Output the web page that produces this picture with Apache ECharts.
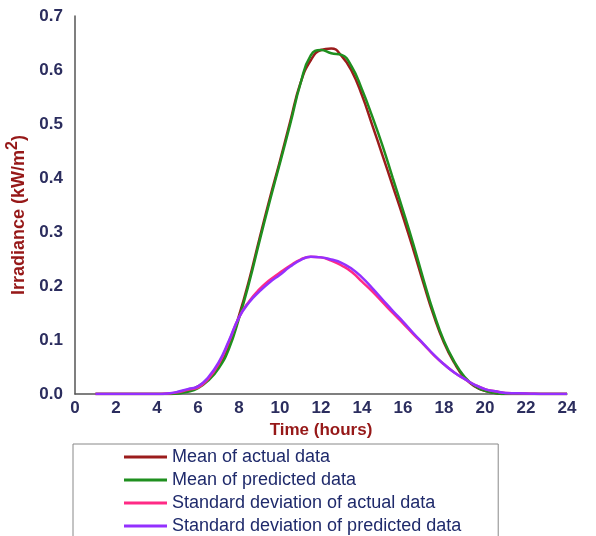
<!DOCTYPE html>
<html>
<head>
<meta charset="utf-8">
<script src="https://cdn.jsdelivr.net/npm/echarts@6/dist/echarts.min.js"></script>
<style>
  html, body { margin: 0; padding: 0; background: #fff; }
  #chart { width: 596px; height: 536px; }
</style>
</head>
<body>
<div id="chart"></div>
<script>
var hours = [1, 2, 3, 4, 4.5, 5, 5.5, 6, 6.5, 7, 7.5, 8, 8.5, 9, 9.5, 10, 10.5, 11, 11.5, 12,
    12.5, 13, 13.5, 14, 14.5, 15, 15.5, 16, 16.5, 17, 17.5, 18, 18.5, 19, 19.5, 20, 20.5, 21, 22, 23, 24];

var meanActual = [0, 0, 0, 0, 0, 0.002, 0.006, 0.014, 0.028, 0.05, 0.087, 0.145, 0.212, 0.288, 0.362, 0.432, 0.505, 0.576, 0.618, 0.637,
    0.64, 0.626, 0.598, 0.553, 0.498, 0.442, 0.385, 0.328, 0.268, 0.205, 0.145, 0.095, 0.058, 0.03, 0.014, 0.006, 0.002, 0, 0, 0, 0];

var meanPredicted = [0, 0, 0, 0, 0, 0.001, 0.004, 0.011, 0.025, 0.047, 0.083, 0.14, 0.207, 0.283, 0.357, 0.428, 0.5, 0.575, 0.627, 0.637,
    0.631, 0.628, 0.606, 0.564, 0.514, 0.46, 0.4, 0.34, 0.278, 0.212, 0.15, 0.098, 0.06, 0.032, 0.015, 0.006, 0.002, 0, 0, 0, 0];

var stdActual = [0, 0, 0, 0, 0.001, 0.003, 0.008, 0.012, 0.028, 0.055, 0.096, 0.142, 0.172, 0.194, 0.211, 0.225, 0.238, 0.249, 0.254, 0.253,
    0.247, 0.238, 0.226, 0.208, 0.19, 0.17, 0.15, 0.131, 0.111, 0.092, 0.072, 0.055, 0.04, 0.028, 0.017, 0.009, 0.005, 0.002, 0.001, 0, 0];

var stdPredicted = [0, 0, 0, 0, 0.001, 0.004, 0.009, 0.014, 0.031, 0.058, 0.098, 0.142, 0.17, 0.19, 0.207, 0.221, 0.236, 0.248, 0.254, 0.253,
    0.249, 0.243, 0.232, 0.216, 0.196, 0.175, 0.154, 0.134, 0.113, 0.093, 0.073, 0.055, 0.04, 0.028, 0.017, 0.009, 0.005, 0.002, 0.001, 0, 0];

var seriesNames = ['Mean of actual data', 'Mean of predicted data', 'Standard deviation of actual data', 'Standard deviation of predicted data'];
var seriesColors = ['#9b1c1c', '#1f8f1f', '#ff2a85', '#9430ff'];
var seriesValues = [meanActual, meanPredicted, stdActual, stdPredicted];

function pairs(values) {
    return hours.map(function (h, i) { return [h, values[i]]; });
}

var chart = echarts.init(document.getElementById('chart'));

var option = {
    backgroundColor: '#fff',
    animation: false,
    grid: { left: 75, right: 29, top: 16, bottom: 142, containLabel: false, outerBoundsMode: 'none' },
    xAxis: {
        type: 'value',
        min: 0,
        max: 24,
        interval: 2,
        name: 'Time (hours)',
        nameLocation: 'middle',
        nameGap: 25,
        nameTextStyle: { color: '#961818', fontSize: 17, fontWeight: 'bold', fontFamily: 'Liberation Sans' },
        axisLine: { lineStyle: { color: '#555', width: 1.5 } },
        axisTick: { show: false },
        splitLine: { show: false },
        axisLabel: { color: '#2b2d5e', fontSize: 17, fontWeight: 'bold', fontFamily: 'Liberation Sans', margin: 6 }
    },
    yAxis: {
        type: 'value',
        min: 0,
        max: 0.7,
        interval: 0.1,
        name: '{a|Irradiance (kW/m}{b|2}{a|)}',
        nameLocation: 'middle',
        nameGap: 41,
        nameTextStyle: {
            padding: [0, 20, 0, 0],
            rich: {
                a: { color: '#961818', fontSize: 18, fontWeight: 'bold', fontFamily: 'Liberation Sans', lineHeight: 18, verticalAlign: 'bottom' },
                b: { color: '#961818', fontSize: 16, fontWeight: 'bold', fontFamily: 'Liberation Sans', lineHeight: 24, verticalAlign: 'top' }
            }
        },
        axisLine: { show: true, lineStyle: { color: '#555', width: 1.5 } },
        axisTick: { show: false },
        splitLine: { show: false },
        axisLabel: {
            color: '#2b2d5e', fontSize: 17, fontWeight: 'bold', fontFamily: 'Liberation Sans', margin: 12,
            formatter: function (v) { return v.toFixed(1); }
        }
    },
    legend: {
        orient: 'vertical',
        left: 73,
        top: 444,
        height: 100,
        padding: [4, 37, 10, 51],
        icon: 'rect',
        itemWidth: 43,
        itemHeight: 3,
        itemGap: 5,
        borderColor: '#888',
        borderWidth: 1,
        textStyle: { color: '#1f2a6b', fontSize: 18, fontFamily: 'Liberation Sans', lineHeight: 18 },
        data: seriesNames
    },
    series: seriesNames.map(function (name, i) {
        return {
            name: name,
            type: 'line',
            data: pairs(seriesValues[i]),
            smooth: 0.5,
            symbol: 'none',
            color: seriesColors[i],
            lineStyle: { width: 2.5, color: seriesColors[i] }
        };
    })
};

chart.setOption(option);
</script>
</body>
</html>
